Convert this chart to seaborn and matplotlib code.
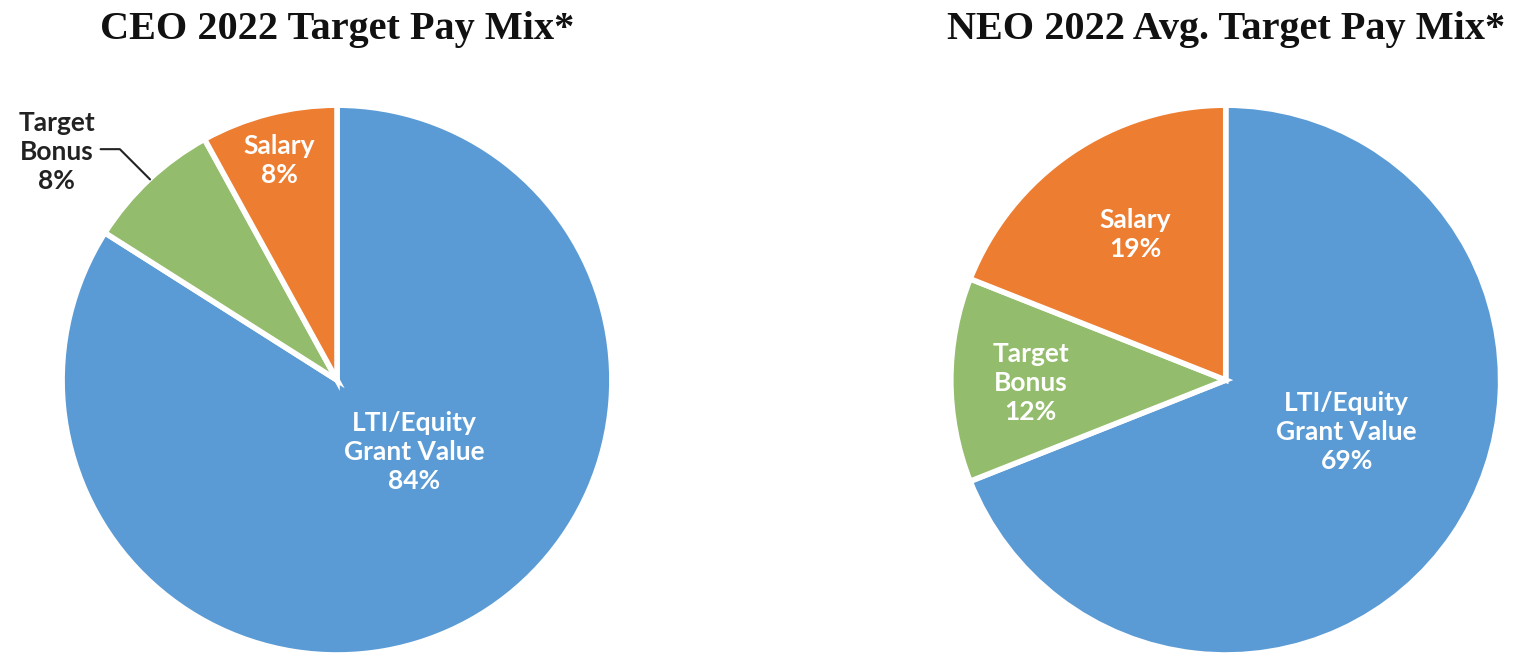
import matplotlib
matplotlib.use("Agg")
import matplotlib.pyplot as plt
import seaborn as sns

sns.set_theme(style="white")

categories = ["LTI/Equity\nGrant Value", "Target\nBonus", "Salary"]
ceo_values = [84, 8, 8]
neo_values = [69, 12, 19]
titles = ["CEO 2022 Target Pay Mix*", "NEO 2022 Avg. Target Pay Mix*"]
colors = ["#5B9BD5", "#93BC6C", "#ED7D31"]

fig = plt.figure(figsize=(15.36, 6.64), dpi=100)
ax_l = fig.add_axes([0.0404, 0.0136, 0.358, 0.828])
ax_r = fig.add_axes([0.619, 0.0136, 0.358, 0.828])

# label positions (axes data units, pie radius = 1)
label_pos = {
    0: [(0.28, -0.26), (-1.02, 0.83), (-0.21, 0.80)],
    1: [(0.44, -0.19), (-0.71, -0.01), (-0.33, 0.53)],
}

for i, (ax, vals, title) in enumerate(zip([ax_l, ax_r], [ceo_values, neo_values], titles)):
    ax.pie(vals, colors=colors, startangle=90, counterclock=False,
           wedgeprops=dict(edgecolor="white", linewidth=4))
    ax.set_xlim(-1, 1)
    ax.set_ylim(-1, 1)
    ax.set_aspect("equal")
    for j, (cat, v) in enumerate(zip(categories, vals)):
        x, y = label_pos[i][j]
        outside = (i == 0 and j == 1)
        ax.text(x, y, f"{cat}\n{v}%", ha="center", va="center",
                fontsize=19, fontweight="bold", family="Lato",
                color="#222222" if outside else "white", linespacing=1.25,
                clip_on=False)
    fig.text((ax.get_position().x0 + ax.get_position().x1) / 2, 0.955, title,
             ha="center", va="center", fontsize=29, fontweight="bold",
             family="Liberation Serif", color="#111111")

# leader line for CEO target bonus
ax_l.plot([-0.86, -0.79, -0.68], [0.84, 0.84, 0.73], color="#222222", lw=1.5, clip_on=False)

fig.savefig("out.png", dpi=100)
